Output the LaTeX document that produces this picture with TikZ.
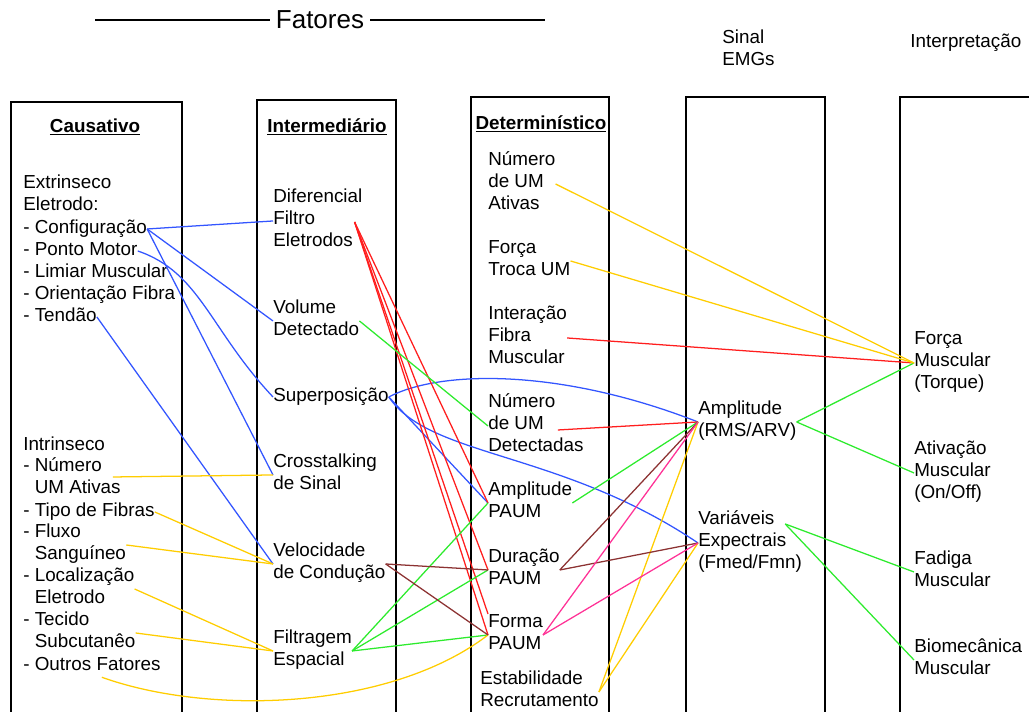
\documentclass[tikz,border=0pt]{standalone}
\usepackage{fontspec}
\setmainfont{Liberation Sans}
\usepackage{tikz}
\usetikzlibrary{positioning, calc}
\definecolor{lnblue}{RGB}{51,85,255}
\definecolor{lnred}{RGB}{255,30,30}
\definecolor{lngreen}{RGB}{45,235,45}
\definecolor{lnyellow}{RGB}{255,205,0}
\definecolor{lnbrown}{RGB}{140,50,50}
\definecolor{lnpink}{RGB}{255,50,150}
\newcommand{\itemfont}{\fontsize{13.4}{15.65}\selectfont}
\newcommand{\ind}{\hspace*{8.2pt}}
\tikzstyle{item} = [anchor=west, align=left, inner sep=0pt, yshift=-1.4pt, font=\itemfont, execute at begin node=\strut, execute at end node=\strut]
\tikzstyle{head} = [inner sep=0pt, yshift=-1.4pt, font=\itemfont\bfseries]
\tikzstyle{colbox} = [line width=2.1pt]
\tikzstyle{link} = [line width=0.9pt]

\begin{document}
\begin{tikzpicture}[x=0.025cm, y=-0.025cm]
\useasboundingbox (0,0) rectangle (1029,711);

% Title
\node[inner sep=4pt, font=\fontsize{18.5}{20}\selectfont] (title) at (320,20) {Fatores};
\coordinate (tleft) at (95,20);
\coordinate (tright) at (545,20);
\draw[line width=1.8pt] (tleft) -- (title.west);
\draw[line width=1.8pt] (title.east) -- (tright);
\node[item] (sinal) at (722,49) {Sinal\\EMGs};
\node[item] (interp) at (910,41) {Interpretação};

% Columns
\draw[colbox] (11,102) rectangle (182,740);
\draw[colbox] (257,100) rectangle (396,740);
\draw[colbox] (471,97) rectangle (609,740);
\draw[colbox] (686,97) rectangle (825,740);
\draw[colbox] (900,97) rectangle (1060,740);

% Headers
\node[head] (hcaus) at (95,125) {\underline{Causativo}};
\node[head] (hinter) at (327,125) {\underline{Intermediário}};
\node[head] (hdet) at (541,122) {\underline{Determinístico}};

% Causativo
\node[item] (ext) at (23,194) {Extrinseco\\Eletrodo:};
\node[item] (cfg) at (23,227) {- Configuração};
\node[item] (pmot) at (23,249) {- Ponto Motor};
\node[item] (lim) at (23,271) {- Limiar Muscular};
\node[item] (ori) at (23,293) {- Orientação Fibra};
\node[item] (ten) at (23,315) {- Tendão};
\node[item] (intr) at (23,444) {Intrinseco};
\node[item] (num) at (23,477) {- Número\\\ind UM Ativas};
\node[item] (tipo) at (23,510) {- Tipo de Fibras};
\node[item] (flux) at (23,543) {- Fluxo\\\ind Sanguíneo};
\node[item] (loc) at (23,587) {- Localização\\\ind Eletrodo};
\node[item] (tec) at (23,631) {- Tecido\\\ind Subcutanêo};
\node[item] (outr) at (23,664) {- Outros Fatores};

% Intermediario
\node[item] (dif) at (273,219) {Diferencial\\Filtro\\Eletrodos};
\node[item] (vol) at (273,319) {Volume\\Detectado};
\node[item] (sup) at (273,395) {Superposição};
\node[item] (cross) at (273,473) {Crosstalking\\de Sinal};
\node[item] (vel) at (273,562) {Velocidade\\de Condução};
\node[item] (filt) at (273,649) {Filtragem\\Espacial};

% Deterministico
\node[item] (nativ) at (488,182) {Número\\de UM\\Ativas};
\node[item] (ftroca) at (488,259) {Força\\Troca UM};
\node[item] (inter) at (488,336) {Interação\\Fibra\\Muscular};
\node[item] (ndet) at (488,424) {Número\\de UM\\Detectadas};
\node[item] (ampp) at (488,501) {Amplitude\\PAUM};
\node[item] (dur) at (488,568) {Duração\\PAUM};
\node[item] (forma) at (488,633) {Forma\\PAUM};
\node[item] (estab) at (480,690) {Estabilidade\\Recrutamento};

% Sinal EMGs
\node[item] (amprms) at (698,420) {Amplitude\\(RMS/ARV)};
\node[item] (varesp) at (698,541) {Variáveis\\Expectrais\\(Fmed/Fmn)};

% Interpretacao
\node[item] (forca) at (914,361) {Força\\Muscular\\(Torque)};
\node[item] (ativ) at (914,471) {Ativação\\Muscular\\(On/Off)};
\node[item] (fad) at (914,570) {Fadiga\\Muscular};
\node[item] (bio) at (914,658) {Biomecânica\\Muscular};

% Blue links
\draw[link, lnblue] (cfg.east) -- (dif.west);
\draw[link, lnblue] (cfg.east) -- (vol.west);
\draw[link, lnblue] (cfg.east) -- (cross.west);
\draw[link, lnblue] (pmot.east) .. controls (200,272) and (210,330) .. (sup.west);
\draw[link, lnblue] (ten.east) -- (vel.west);
\draw[link, lnblue] (sup.east) .. controls (440,370) and (560,368) .. (amprms.west);
\draw[link, lnblue] (sup.east) .. controls (430,458) and (560,450) .. (varesp.west);
\draw[link, lnblue] (sup.east) -- (ampp.west);

% Red links
\draw[link, lnred] ($(dif.east)+(-8,1)$) -- (ampp.west);
\draw[link, lnred] ($(dif.east)+(-8,1)$) -- (dur.west);
\draw[link, lnred] ($(dif.east)+(-8,1)$) -- (forma.west);
\draw[link, lnred] ($(dif.east)+(-8,1)$) -- (forma.north west);
\draw[link, lnred] (inter.east) -- (forca.west);
\draw[link, lnred] ($(ndet.east)+(-26,4)$) -- (amprms.west);

% Green links
\draw[link, lngreen] (vol.east) -- (ndet.west);
\draw[link, lngreen] (filt.east) -- (ampp.west);
\draw[link, lngreen] (filt.east) -- (dur.west);
\draw[link, lngreen] (filt.east) -- (forma.west);
\draw[link, lngreen] (ampp.east) -- (amprms.west);
\draw[link, lngreen] (amprms.east) -- (forca.west);
\draw[link, lngreen] (amprms.east) -- (ativ.west);
\draw[link, lngreen] ($(varesp.east)+(-17,-19)$) -- (fad.west);
\draw[link, lngreen] ($(varesp.east)+(-17,-19)$) -- (bio.west);

% Yellow links
\draw[link, lnyellow] ($(num.east)+(-8,-2)$) -- (cross.west);
\draw[link, lnyellow] (tipo.east) -- (vel.west);
\draw[link, lnyellow] (flux.east) -- (vel.west);
\draw[link, lnyellow] (loc.east) -- (filt.west);
\draw[link, lnyellow] (tec.east) -- (filt.west);
\draw[link, lnyellow] ($(outr.south)+(10,0)$) .. controls (210,716) and (390,710) .. (forma.west);
\draw[link, lnyellow] (nativ.east) -- (forca.west);
\draw[link, lnyellow] (ftroca.east) -- (forca.west);
\draw[link, lnyellow] (estab.east) -- (amprms.west);
\draw[link, lnyellow] (estab.east) -- (varesp.west);

% Brown links
\draw[link, lnbrown] (vel.east) -- (dur.west);
\draw[link, lnbrown] (vel.east) -- (forma.west);
\draw[link, lnbrown] (dur.east) -- (amprms.west);
\draw[link, lnbrown] (dur.east) -- (varesp.west);

% Pink links
\draw[link, lnpink] (forma.east) -- (amprms.west);
\draw[link, lnpink] (forma.east) -- (varesp.west);
\end{tikzpicture}
\end{document}
